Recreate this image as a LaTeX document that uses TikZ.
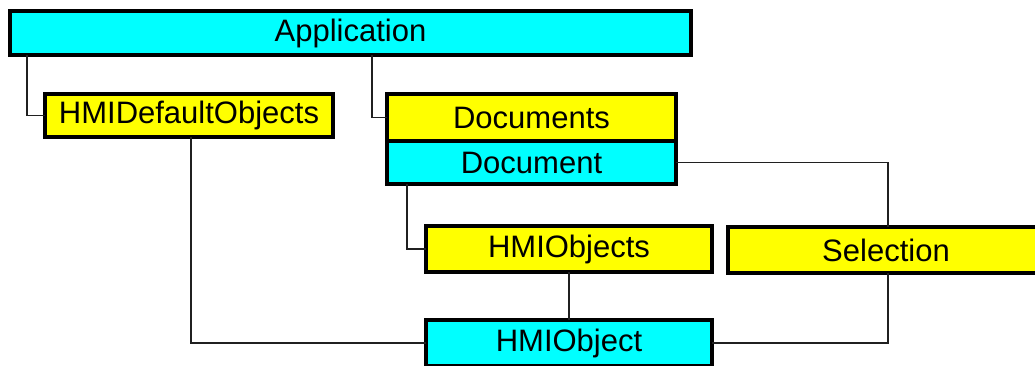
\documentclass[tikz,border=0pt]{standalone}
\usepackage{fontspec}
\setmainfont{Liberation Sans}
\definecolor{boxcyan}{HTML}{00FFFF}
\definecolor{boxyellow}{HTML}{FFFF00}
\definecolor{linegray}{HTML}{202020}
\begin{document}
\begin{tikzpicture}[x=1pt,y=-1pt,
  objbox/.style={draw=black, line width=3.5pt, inner sep=0pt, outer sep=0pt,
    font=\fontsize{31}{34}\selectfont, anchor=center},
  cyanbox/.style={objbox, fill=boxcyan},
  yellowbox/.style={objbox, fill=boxyellow},
  link/.style={draw=linegray, line width=1.5pt}
]
\useasboundingbox (0,0) rectangle (1035,365);
\clip (0,0) rectangle (1035,365);
% coordinates for connector columns
\coordinate (c1) at (27,0);
\coordinate (c2) at (372,0);
\coordinate (c3) at (407,0);
\coordinate (c4) at (888,0);
\coordinate (c5) at (191,0);
% nodes
\node[cyanbox, minimum width=681pt, minimum height=44pt] (app) at (350.5,33) {Application};
\node[yellowbox, minimum width=288pt, minimum height=43pt] (hdo) at (189,115.5) {HMIDefaultObjects};
\node[yellowbox, minimum width=289pt, minimum height=47pt] (docs) at (531.5,117.5) {Documents};
\node[cyanbox, minimum width=289pt, minimum height=43pt] (doc) at (531.5,162.5) {Document};
\node[yellowbox, minimum width=286pt, minimum height=46pt] (hmis) at (569,249) {HMIObjects};
\node[yellowbox, minimum width=316pt, minimum height=46pt] (sel) at (886,250) {Selection};
\node[cyanbox, minimum width=286pt, minimum height=46pt] (hmio) at (569,343) {HMIObject};
% connectors
\draw[link] (app.south -| c1) |- (hdo.west);
\draw[link] (app.south -| c2) |- (docs.west);
\draw[link] (doc.south -| c3) |- (hmis.west);
\draw[link] (doc.east) -| (sel.north -| c4);
\draw[link] (sel.south -| c4) |- (hmio.east);
\draw[link] (hmis.south) -- (hmio.north);
\draw[link] (hdo.south -| c5) |- (hmio.west);
\end{tikzpicture}
\end{document}
